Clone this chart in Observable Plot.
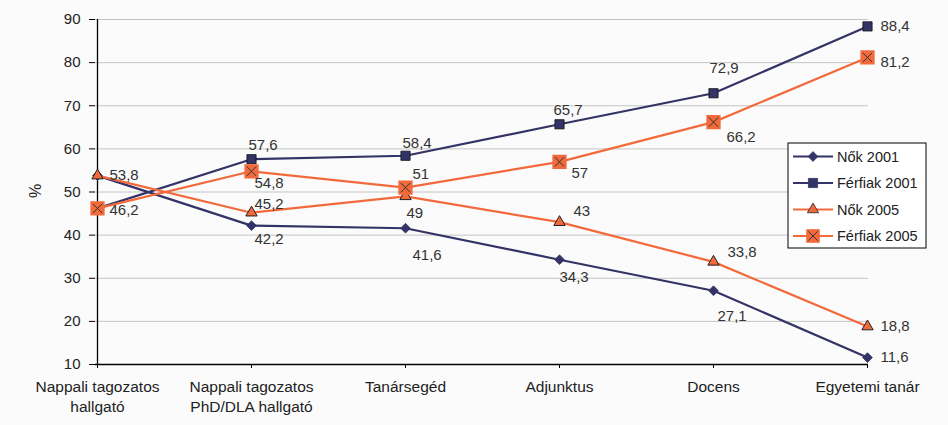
<!DOCTYPE html>
<html>
<head>
<meta charset="utf-8">
<script src="https://cdn.jsdelivr.net/npm/d3@7"></script>
<script src="https://cdn.jsdelivr.net/npm/@observablehq/plot@0.6"></script>
<style>
  html, body { margin: 0; padding: 0; background: #fbfbfb; }
  #wrap { position: relative; width: 948px; height: 425px; font-family: "Liberation Sans", Arial, sans-serif; }
  #legend { position: absolute; left: 0; top: 0; }
</style>
</head>
<body>
<div id="wrap"></div>
<script>
// ---- data ----
const categories = ["Nappali tagozatos\nhallgató", "Nappali tagozatos\nPhD/DLA hallgató", "Tanársegéd", "Adjunktus", "Docens", "Egyetemi tanár"];
const seriesNames = ["Nők 2001", "Férfiak 2001", "Nők 2005", "Férfiak 2005"];
const nok2001 = [53.8, 42.2, 41.6, 34.3, 27.1, 11.6];
const ferfiak2001 = [46.2, 57.6, 58.4, 65.7, 72.9, 88.4];
const nok2005 = [53.8, 45.2, 49, 43, 33.8, 18.8];
const ferfiak2005 = [46.2, 54.8, 51, 57, 66.2, 81.2];
const yTicks = [10, 20, 30, 40, 50, 60, 70, 80, 90];

// ---- layout / style ----
const NAVY = "#333366";
const ORANGE = "#f26a3b";
const seriesValues = [nok2001, ferfiak2001, nok2005, ferfiak2005];
// label offsets [dx, dy] per series per category (null = hidden, overlapping duplicate)
const labelOffsets = [
  [null, [3, 14], [7, 27], [0, 17], [4, 25], [13, 0]],
  [null, [-3, -14], [-3, -13], [-6, -14], [-4, -25], [13, 0]],
  [[12, 0], [3, -9], [1, 17], [14, -11], [14, -10], [13, 0]],
  [[12, 2], [3, 12], [7, -14], [12, 11], [13, 15], [13, 5]]
];

const rows = [];
seriesValues.forEach((vals, s) => vals.forEach((v, i) => rows.push({series: seriesNames[s], s, cat: categories[i], i, value: v})));
const bySeries = s => rows.filter(d => d.s === s);
const fmt = v => String(v).replace(".", ",");

const labelMarks = rows.filter(d => labelOffsets[d.s][d.i]).map(d =>
  Plot.text([d], {x: "cat", y: "value", text: r => fmt(r.value), dx: labelOffsets[d.s][d.i][0], dy: labelOffsets[d.s][d.i][1],
    textAnchor: "start", fill: "#333", fontSize: 15})
);

const chart = Plot.plot({
  width: 948,
  height: 425,
  marginLeft: 95,
  marginRight: 80,
  marginTop: 19,
  marginBottom: 61,
  style: {fontFamily: "Liberation Sans, Arial, sans-serif", background: "#fbfbfb", overflow: "visible"},
  x: {type: "point", domain: categories, padding: 0},
  y: {domain: [10, 90]},
  marks: [
    Plot.ruleY(yTicks.filter(t => t > 10), {stroke: "#c4c4c4", strokeWidth: 1}),
    Plot.axisY({ticks: yTicks, tickSize: 6, tickPadding: 9, fontSize: 15, label: null, stroke: "#000", fill: "#222"}),
    Plot.axisX({tickSize: 4, tickPadding: 9, fontSize: 15.5, label: null, lineHeight: 1.3, stroke: "#000", fill: "#222"}),
    Plot.text(["%"], {frameAnchor: "left", dx: -60, dy: 6, rotate: -90, fontSize: 16, fill: "#222"}),
    Plot.ruleX([categories[0]], {y1: 10, y2: 90, stroke: "#000", strokeWidth: 1.3}),
    Plot.ruleY([10], {stroke: "#000", strokeWidth: 1.3}),
    // lines
    Plot.line(bySeries(0), {x: "cat", y: "value", stroke: NAVY, strokeWidth: 2.2}),
    Plot.line(bySeries(1), {x: "cat", y: "value", stroke: NAVY, strokeWidth: 2.2}),
    Plot.line(bySeries(2), {x: "cat", y: "value", stroke: ORANGE, strokeWidth: 2.2}),
    Plot.line(bySeries(3), {x: "cat", y: "value", stroke: ORANGE, strokeWidth: 2.2}),
    // markers
    Plot.dot(bySeries(0), {x: "cat", y: "value", symbol: "diamond2", r: 4.4, fill: NAVY, stroke: NAVY, strokeWidth: 0.8}),
    Plot.dot(bySeries(1), {x: "cat", y: "value", symbol: "square", r: 5.2, fill: NAVY, stroke: "#111", strokeWidth: 0.8}),
    Plot.dot(bySeries(2), {x: "cat", y: "value", symbol: "triangle", r: 4.2, fill: ORANGE, stroke: "#222", strokeWidth: 1}),
    Plot.dot(bySeries(3), {x: "cat", y: "value", symbol: "square", r: 7.2, fill: ORANGE, stroke: ORANGE}),
    Plot.dot(bySeries(3), {x: "cat", y: "value", symbol: "times", r: 4.3, stroke: "#333", strokeWidth: 1}),
    ...labelMarks
  ]
});

const wrap = document.getElementById("wrap");
wrap.appendChild(chart);

// legend (inside the plot area, top-right)
const legendItems = seriesNames.map((name, s) => ({name, s}));
const lg = d3.select(wrap).append("svg").attr("id", "legend").attr("width", 948).attr("height", 425)
  .style("pointer-events", "none");
const box = lg.append("g").attr("transform", "translate(788,143)");
box.append("rect").attr("width", 138).attr("height", 105).attr("fill", "#fff").attr("stroke", "#000").attr("stroke-width", 1);
legendItems.forEach((d, k) => {
  const g = box.append("g").attr("transform", `translate(0,${13.5 + k * 26.5})`);
  const color = d.s < 2 ? NAVY : ORANGE;
  g.append("line").attr("x1", 5).attr("x2", 45).attr("stroke", color).attr("stroke-width", 2);
  const sym = [d3.symbolDiamond2, d3.symbolSquare, d3.symbolTriangle, d3.symbolSquare][d.s];
  const size = [4.4, 5.2, 4.2, 7.2][d.s];
  const path = d3.symbol(sym, Math.PI * size * size)();
  g.append("path").attr("d", path).attr("transform", "translate(25,0)")
    .attr("fill", d.s < 2 ? NAVY : ORANGE).attr("stroke", d.s === 2 ? "#222" : (d.s === 3 ? ORANGE : NAVY)).attr("stroke-width", 0.8);
  if (d.s === 3) {
    g.append("path").attr("d", d3.symbol(d3.symbolTimes, Math.PI * 4.3 * 4.3)()).attr("transform", "translate(25,0)")
      .attr("fill", "none").attr("stroke", "#333").attr("stroke-width", 1);
  }
  g.append("text").attr("x", 49).attr("y", 0).attr("dy", "0.35em").attr("font-size", 14.5)
    .attr("font-family", "Liberation Sans, Arial, sans-serif").attr("fill", "#222").text(d.name);
});
</script>
</body>
</html>
